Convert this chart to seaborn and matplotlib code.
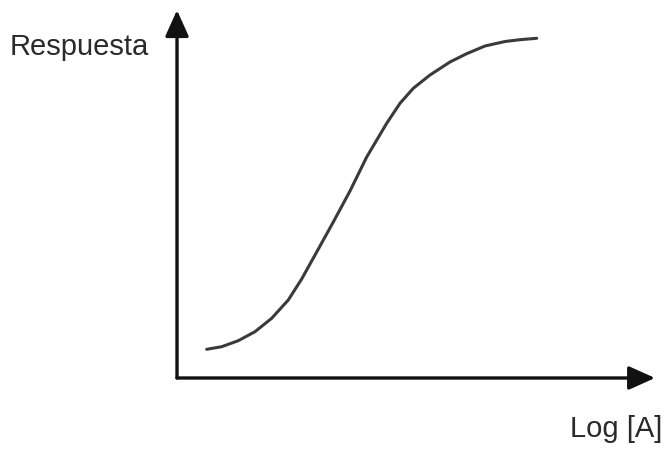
import matplotlib
matplotlib.use("Agg")
import matplotlib.pyplot as plt
from matplotlib.patches import ArrowStyle
import seaborn as sns
import pandas as pd

# Dose-response curve (arbitrary units)
log_a = [0.594, 0.894, 1.226, 1.56, 1.894, 2.226, 2.494, 2.794, 3.126, 3.46,
         3.794, 4.194, 4.46, 4.726, 5.06, 5.46, 5.78, 6.16, 6.56, 6.86, 7.194]
respuesta = [8.2, 8.94, 10.66, 13.23, 17.06, 22.29, 28.29, 36.0, 44.57, 53.43,
             63.14, 72.77, 78.49, 82.77, 86.57, 90.29, 92.57, 94.86, 96.14, 96.66, 97.06]
x_label = "Log [A]"
y_label = "Respuesta"

sns.set_theme(style="white")
plt.rcParams["font.family"] = ["Liberation Sans", "DejaVu Sans"]

df = pd.DataFrame({"log_a": log_a, "respuesta": respuesta})

fig = plt.figure(figsize=(6.65, 4.51), dpi=100)
ax = fig.add_axes([0, 0, 1, 1])
sns.lineplot(data=df, x="log_a", y="respuesta", ax=ax, color="#3a3a3a",
             linewidth=2.2, sort=False, solid_joinstyle="round",
             solid_capstyle="round")

ax.set_xlim(-3.54, 9.76)
ax.set_ylim(-20.86, 108.0)
for s in ax.spines.values():
    s.set_visible(False)
ax.set_xticks([])
ax.set_yticks([])
ax.set_xlabel("")
ax.set_ylabel("")

head = ArrowStyle("-|>", head_length=0.8, head_width=0.36)
ax.annotate("", xy=(9.56, 0), xytext=(0, 0),
            arrowprops=dict(arrowstyle=head, mutation_scale=20, color="#111111",
                            lw=2.4, shrinkA=0, shrinkB=0))
ax.annotate("", xy=(0, 105.1), xytext=(0, 0),
            arrowprops=dict(arrowstyle=head, mutation_scale=20, color="#111111",
                            lw=2.4, shrinkA=0, shrinkB=0))

ax.text(-3.34, 92.3, y_label, ha="left", va="baseline", fontsize=21, color="#2a2a2a")
ax.text(9.70, -16.9, x_label, ha="right", va="baseline", fontsize=21, color="#2a2a2a")

fig.savefig("out.png", dpi=100)
